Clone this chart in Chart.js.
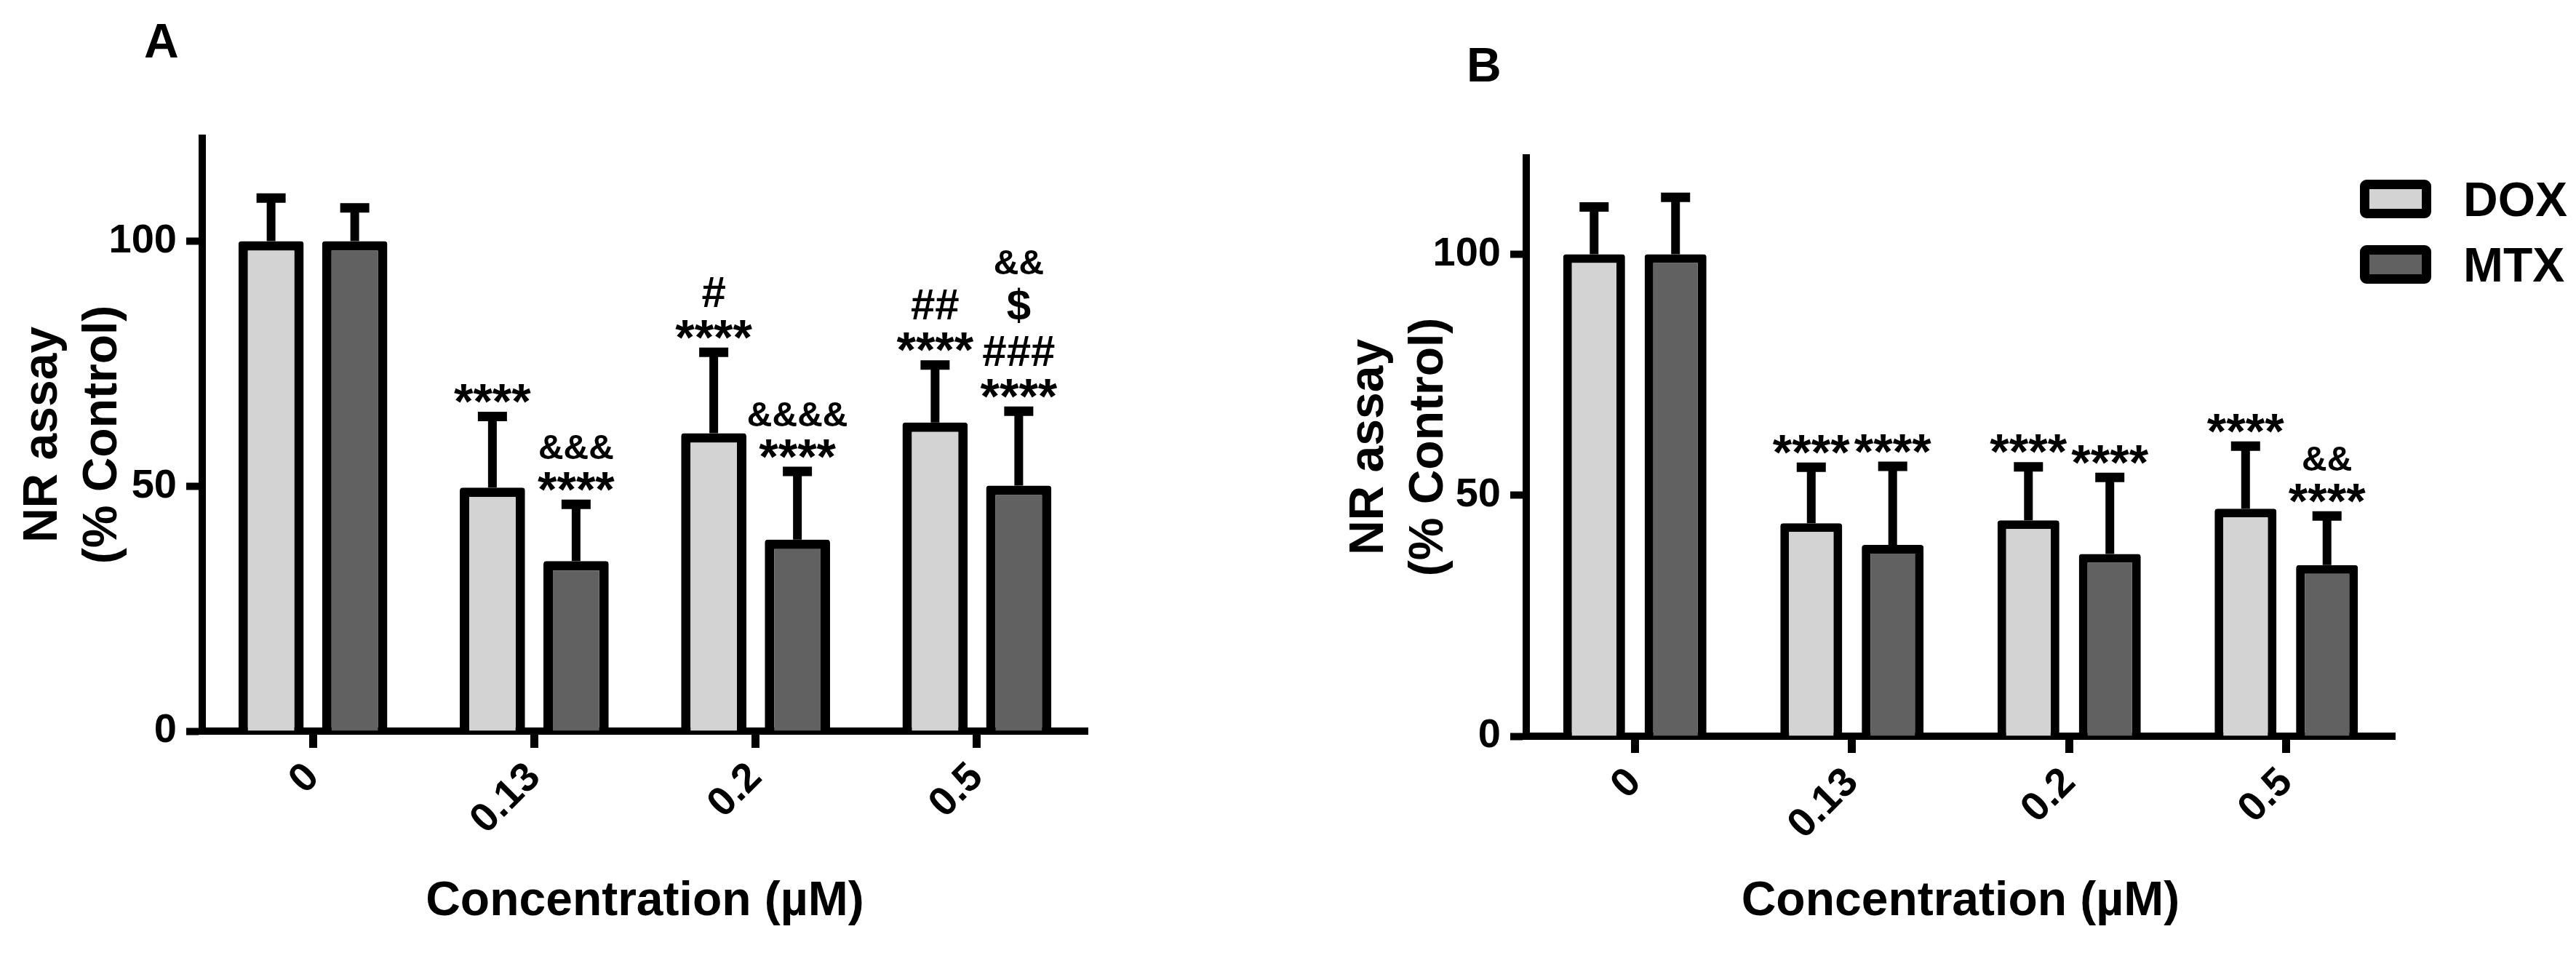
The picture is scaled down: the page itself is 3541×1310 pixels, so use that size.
<!DOCTYPE html>
<html>
<head>
<meta charset="utf-8">
<script src="https://cdn.jsdelivr.net/npm/chart.js@4.4.1/dist/chart.umd.min.js"></script>
<style>
  html, body { margin: 0; padding: 0; background: #fff; }
  body { width: 3541px; height: 1310px; position: relative; overflow: hidden; font-family: "Liberation Sans", Arial, sans-serif; color: #000; }
  canvas { position: absolute; top: 0; }
  #chartA { left: 0; }
  #chartB { left: 1770px; }
  .panel-letter { position: absolute; font-weight: bold; font-size: 66px; line-height: 1; }
  #legendB { position: absolute; left: 3244px; top: 247px; }
  .legend-item { display: flex; align-items: center; height: 53px; margin-bottom: 37px; }
  .legend-box { box-sizing: border-box; width: 98px; height: 53px; border: 13px solid #000; border-radius: 9px; }
  .legend-text { margin-left: 44px; font-weight: bold; font-size: 66px; }
</style>
</head>
<body>
<div class="panel-letter" style="left:198px;top:23px">A</div>
<div class="panel-letter" style="left:2016px;top:56px">B</div>
<canvas id="chartA" width="1770" height="1310"></canvas>
<canvas id="chartB" width="1771" height="1310"></canvas>
<div id="legendB"></div>
<script>
const categories = ['0', '0.13', '0.2', '0.5'];
const seriesNames = ['DOX', 'MTX'];
const seriesColors = ['#d3d3d3', '#616161'];
const yTicks = [0, 50, 100];
const xTitle = 'Concentration (µM)';
const yTitle = ['NR assay', '(% Control)'];

// panel A - mean and SD, % of control
const doxMeanA = [100, 49.7, 60.8, 63.0];
const doxSdA = [8.8, 14.5, 16.5, 11.7];
const mtxMeanA = [100, 34.7, 39.1, 50.1];
const mtxSdA = [6.8, 11.6, 13.9, 15.2];
// significance marks, listed bottom to top
const doxMarksA = [[], ['****'], ['****', '#'], ['****', '##']];
const mtxMarksA = [[], ['****', '&&&'], ['****', '&&&&'], ['****', '###', '$', '&&']];

// panel B
const doxMeanB = [100, 44.2, 44.8, 47.2];
const doxSdB = [9.8, 11.6, 11.1, 13.0];
const mtxMeanB = [100, 39.7, 37.8, 35.5];
const mtxSdB = [11.8, 16.3, 15.9, 10.2];
const doxMarksB = [[], ['****'], ['****'], ['****']];
const mtxMarksB = [[], ['****'], ['****'], ['****', '&&']];

Chart.defaults.font.family = '"Liberation Sans", Arial, sans-serif';
Chart.defaults.color = '#000';

// upper error bars plus the star/hash marks above them
const errorBarPlugin = {
  id: 'errorBars',
  afterDatasetsDraw(chart) {
    const ctx = chart.ctx;
    const yScale = chart.scales.y;
    ctx.save();
    ctx.strokeStyle = '#000';
    ctx.fillStyle = '#000';
    ctx.textAlign = 'center';
    ctx.textBaseline = 'alphabetic';
    chart.data.datasets.forEach((ds, di) => {
      const meta = chart.getDatasetMeta(di);
      meta.data.forEach((bar, i) => {
        const base = yScale.getPixelForValue(ds.data[i]);
        const top = yScale.getPixelForValue(ds.data[i] + ds.sd[i]);
        ctx.lineWidth = 12;
        ctx.beginPath();
        ctx.moveTo(bar.x, base);
        ctx.lineTo(bar.x, top);
        ctx.stroke();
        ctx.lineWidth = 13;
        ctx.beginPath();
        ctx.moveTo(bar.x - 20, top);
        ctx.lineTo(bar.x + 20, top);
        ctx.stroke();

        let bottom = top - 6.5 - 12;
        (ds.marks[i] || []).forEach(txt => {
          const ch = txt[0];
          const size = ch === '*' ? 68 : (ch === '&' ? 48 : 60);
          ctx.font = 'bold ' + size + 'px "Liberation Sans", Arial, sans-serif';
          const m = ctx.measureText(txt);
          const baseline = bottom - m.actualBoundingBoxDescent;
          ctx.fillText(txt, bar.x, baseline);
          bottom = baseline - m.actualBoundingBoxAscent - 18;
        });
      });
    });
    ctx.restore();
  }
};

function panelConfig(doxMean, doxSd, doxMarks, mtxMean, mtxSd, mtxMarks, L) {
  const barStyle = {
    borderColor: '#000',
    borderWidth: L.border,
    borderSkipped: 'bottom',
    borderRadius: 4,
    categoryPercentage: L.catPct,
    barPercentage: L.barPct
  };
  return {
    type: 'bar',
    data: {
      labels: categories,
      datasets: [
        Object.assign({ label: seriesNames[0], data: doxMean, sd: doxSd, marks: doxMarks, backgroundColor: seriesColors[0] }, barStyle),
        Object.assign({ label: seriesNames[1], data: mtxMean, sd: mtxSd, marks: mtxMarks, backgroundColor: seriesColors[1] }, barStyle)
      ]
    },
    options: {
      responsive: false,
      animation: false,
      devicePixelRatio: 1,
      layout: { padding: L.padding },
      plugins: { legend: { display: false }, tooltip: { enabled: false } },
      scales: {
        x: {
          offset: true,
          grid: { display: true, offset: false, drawOnChartArea: false, drawTicks: true, tickLength: 23, tickWidth: 11, tickColor: '#000' },
          border: { display: true, color: '#000', width: 10 },
          ticks: { color: '#000', font: { size: 56, weight: 'bold' }, minRotation: 45, maxRotation: 45, padding: 8, autoSkip: false },
          title: { display: true, text: xTitle, color: '#000', font: { size: 66, weight: 'bold' }, padding: { top: 0, bottom: 31 } },
          afterFit(scale) { scale.height = L.xHeight; }
        },
        y: {
          min: 0,
          max: L.yMax,
          ticks: { color: '#000', font: { size: 56, weight: 'bold' }, padding: 13 },
          afterBuildTicks(scale) { scale.ticks = yTicks.map(v => ({ value: v })); },
          grid: { display: true, drawOnChartArea: false, drawTicks: true, tickLength: 22, tickWidth: 10, tickColor: '#000' },
          border: { display: true, color: '#000', width: 10 },
          title: { display: true, text: yTitle, color: '#000', font: { size: 66, weight: 'bold', lineHeight: 82 / 66 }, padding: { top: L.yTitlePad, bottom: 0 } },
          afterFit(scale) { scale.width = L.yWidth; }
        }
      }
    },
    plugins: [errorBarPlugin]
  };
}

const chartA = new Chart(document.getElementById('chartA'), panelConfig(
  doxMeanA, doxSdA, doxMarksA, mtxMeanA, mtxSdA, mtxMarksA,
  { padding: { left: 0, top: 190, right: 275, bottom: 0 }, yWidth: 278, xHeight: 305, yMax: 121,
    yTitlePad: 19, catPct: 0.756, barPct: 0.78, border: 13 }
));

const chartB = new Chart(document.getElementById('chartB'), panelConfig(
  doxMeanB, doxSdB, doxMarksB, mtxMeanB, mtxSdB, mtxMarksB,
  { padding: { left: 0, top: 217, right: 249, bottom: 0 }, yWidth: 328, xHeight: 298, yMax: 120,
    yTitlePad: 72, catPct: 0.75, barPct: 0.76, border: 12 }
));

// html legend for panel B, built from the chart's own legend items
const legendEl = document.getElementById('legendB');
Chart.defaults.plugins.legend.labels.generateLabels(chartB).forEach(item => {
  const row = document.createElement('div');
  row.className = 'legend-item';
  const box = document.createElement('span');
  box.className = 'legend-box';
  box.style.background = item.fillStyle;
  const txt = document.createElement('span');
  txt.className = 'legend-text';
  txt.textContent = item.text;
  row.appendChild(box);
  row.appendChild(txt);
  legendEl.appendChild(row);
});
</script>
</body>
</html>
